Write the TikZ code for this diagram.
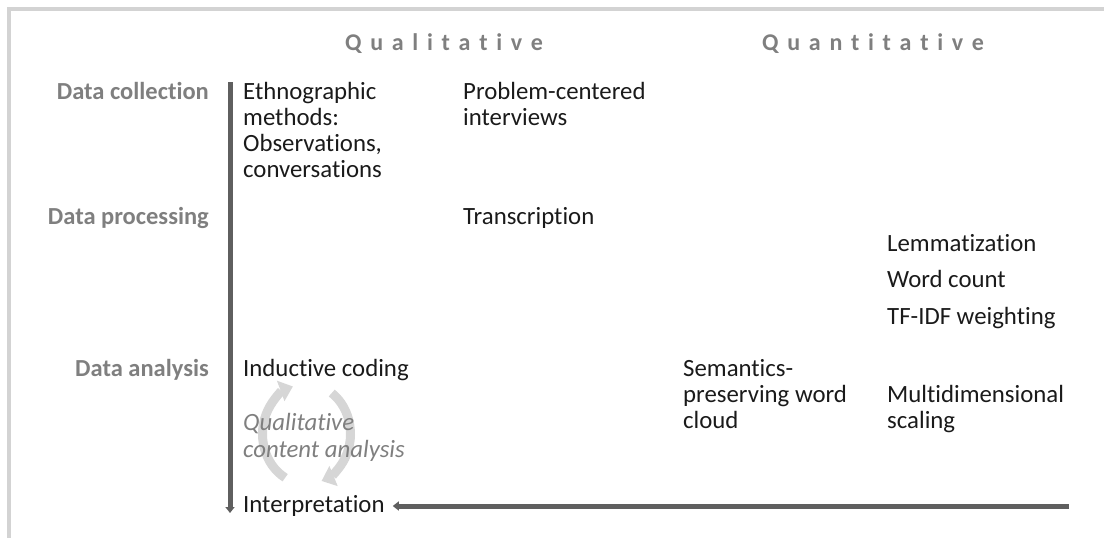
\documentclass[tikz,border=0pt]{standalone}
\usepackage{fontspec}
\setmainfont{Carlito}[Ligatures=NoCommon]
\usetikzlibrary{arrows.meta}
\definecolor{framegray}{HTML}{D3D3D3}
\definecolor{axisgray}{HTML}{5F5F5F}
\definecolor{labelgray}{HTML}{7F7F7F}
\definecolor{cyclegray}{HTML}{D6D6D6}
\definecolor{textblack}{HTML}{1A1A1A}
\tikzset{
  item/.style={anchor=base west,inner sep=0pt,align=left,text=textblack,
    font=\fontsize{24.8}{26}\selectfont},
  rowlabel/.style={anchor=base east,inner sep=0pt,text=labelgray,
    font=\fontsize{24.5}{26}\selectfont\bfseries},
  colhead/.style={anchor=base west,inner sep=0pt,text=labelgray,
    font=\fontsize{24}{26}\selectfont\bfseries},
  flow/.style={draw=axisgray,line width=5pt,-{Triangle[width=9pt,length=6pt]}},
  cyclearrow/.style={draw=cyclegray,line width=9pt,-{Triangle[width=21pt,length=13pt]}}
}
\newcommand\ls{\hskip 8.7pt}

\begin{document}
\begin{tikzpicture}[x=1pt,y=-1pt]
\useasboundingbox (0,0) rectangle (1104,538);
\draw[framegray,line width=4pt] (9,538) -- (9,9) -- (1104,9);

\node[colhead] (qual) at (345,50) {Q\ls u\ls a\ls l\ls i\ls t\ls a\ls t\ls i\ls v\ls e};
\node[colhead] (quant) at (762,50) {Q\ls u\ls a\ls n\ls t\ls i\ls t\ls a\ls t\ls i\ls v\ls e};

\node[rowlabel] (collect) at (209,99) {Data collection};
\node[rowlabel] (process) at (209,224) {Data processing};
\node[rowlabel] (analyse) at (209,376) {Data analysis};

\coordinate (cyc) at (306.5,434);
\draw[cyclearrow] (cyc) ++(241:44pt and 50pt) arc[start angle=241,end angle=108,x radius=44pt,y radius=50pt];
\draw[cyclearrow] (cyc) ++(55:44pt and 50pt) arc[start angle=55,end angle=-70,x radius=44pt,y radius=50pt];

\node[item] (ethno) at (243,177) {Ethnographic\\methods:\\Observations,\\conversations};
\node[item] (interv) at (463,125) {Problem-centered\\interviews};
\node[item] (transc) at (463,224) {Transcription};
\node[item] (lemma) at (887,251) {Lemmatization};
\node[item] (count) at (887,287) {Word count};
\node[item] (tfidf) at (887,324) {TF-IDF weighting};
\node[item] (induct) at (243,376) {Inductive coding};
\node[item] (cloud) at (683,428) {Semantics-\\preserving word\\cloud};
\node[item] (mds) at (887,428) {Multidimensional\\scaling};
\node[item,text=labelgray,font=\fontsize{24.8}{27}\selectfont\itshape] (qca) at (243,457) {Qualitative\\content analysis};
\node[item] (interp) at (243,512) {Interpretation};

\coordinate (axtop) at (230,82);
\coordinate (axbot) at (230,513);
\coordinate (qend) at (1069,506);
\draw[flow] (axtop) -- (axbot);
\draw[flow] (qend) -- ([xshift=8pt]interp.east |- qend);
\end{tikzpicture}
\end{document}
